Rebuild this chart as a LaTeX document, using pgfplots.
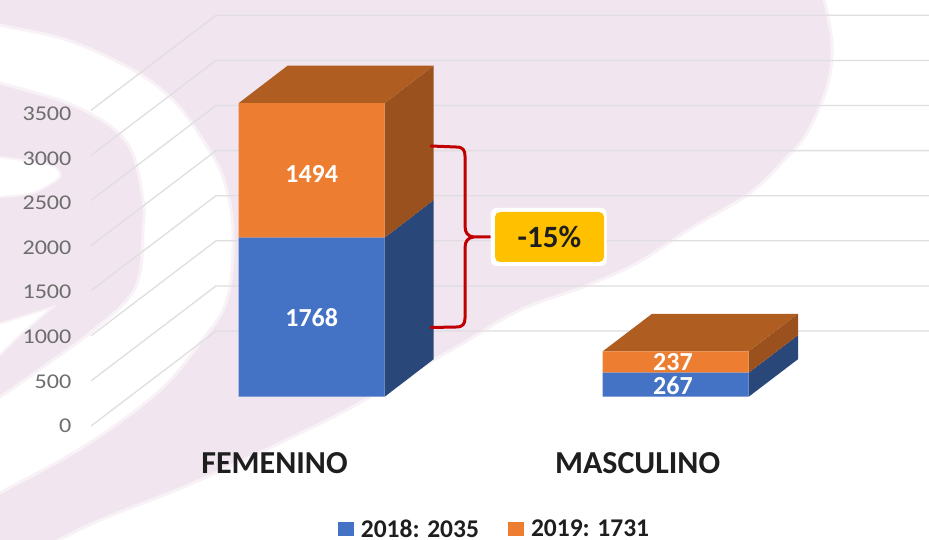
\documentclass[border=0pt]{standalone}
\usepackage{fontspec}
\setmainfont{Carlito}
\newfontfamily\tickfont[FakeStretch=1.15]{Carlito}
\usepackage{pgfplots}
\usepackage{pgfplotstable}
\pgfplotsset{compat=1.18}
\definecolor{bgpink}{HTML}{F1E6EF}
\definecolor{edgepink}{HTML}{F8F2F7}
\definecolor{barblue}{HTML}{4472C4}
\definecolor{barorange}{HTML}{ED7D31}
\definecolor{sideblue}{HTML}{2A4779}
\definecolor{sideorange}{HTML}{9A511D}
\definecolor{toporange}{HTML}{B05D21}
\definecolor{gridc}{HTML}{E0DEE0}
\definecolor{tickc}{HTML}{6E6E6E}
\definecolor{bracered}{HTML}{C00000}
\definecolor{callout}{HTML}{FFC000}
\definecolor{inkc}{HTML}{1E1E1E}
\newcommand\fsz[1]{\fontsize{#1}{#1}\selectfont}

% stacked values, x in picture pixels
\pgfplotstableread{
x    y2018 y2019
311.7 1768 1494
675.7 267  237
}\sexdata

\pgfplotsset{
  canvas/.style={
    at={(0,0)}, anchor=south west, scale only axis,
    width=929pt, height=539pt,
    xmin=0, xmax=929, clip=false,
    axis line style={draw=none}, tick style={draw=none},
  },
  barscale/.style={ymin=-1581.1, ymax=4407.8},
}

\begin{document}
\begin{tikzpicture}
\useasboundingbox (0,0) rectangle (929pt,539pt);

% watermark behind the chart
\begin{scope}[shift={(0,539pt)},x=1pt,y=-1pt]
\clip (0,0) rectangle (929,539);
\fill[white] (0,0) rectangle (929,539);
\path[fill=bgpink, draw=edgepink, line width=3pt] plot[smooth,tension=0.6] coordinates {(823,-5) (832,43) (827,87) (807,133) (787,157) (750,193) (693,227) (637,263) (583,287) (520,310) (460,345) (400,379) (333,417) (200,480) (100,520) (50,545)} -- (-5,545) -- (-5,-5) -- cycle;
\path[fill=white, draw=edgepink, line width=3pt] plot[smooth,tension=0.6] coordinates {(-10,401) (0,397) (43,367) (90,333) (127,300) (140,273) (143,230) (143,200) (127,143) (77,107) (0,83) (-10,80)} -- plot[smooth,tension=0.6] coordinates {(-10,20) (0,25) (67,40) (133,70) (173,100) (203,140) (224,180) (233,233) (227,300) (200,343) (157,393) (83,447) (0,493) (-10,500)} -- cycle;
\path[fill=white, draw=edgepink, line width=2pt] plot[smooth,tension=0.5] coordinates {(-5,156) (0,157) (50,165) (60,177) (33,193) (0,197) (-5,197)} -- cycle;
\path[fill=white, draw=edgepink, line width=2pt] (-5,325) -- (53,307) -- (20,335) -- (-5,360) -- cycle;
\end{scope}

% wall lines
\begin{axis}[canvas,
  ymin=-1252.8, ymax=4722.8,
  xtick=\empty, ytick=\empty,
]
\addplot[gridc, line width=1.3pt] coordinates {(91,0) (216,1053) (929,1053)};
\addplot[gridc, line width=1.3pt] coordinates {(91,500) (216,1553) (929,1553)};
\addplot[gridc, line width=1.3pt] coordinates {(91,1000) (216,2053) (929,2053)};
\addplot[gridc, line width=1.3pt] coordinates {(91,1500) (216,2553) (929,2553)};
\addplot[gridc, line width=1.3pt] coordinates {(91,2000) (216,3053) (929,3053)};
\addplot[gridc, line width=1.3pt] coordinates {(91,2500) (216,3553) (929,3553)};
\addplot[gridc, line width=1.3pt] coordinates {(91,3000) (216,4053) (929,4053)};
\addplot[gridc, line width=1.3pt] coordinates {(91,3500) (216,4553) (929,4553)};
\end{axis}

% value axis labels
\begin{axis}[canvas,
  ymin=-1266.8, ymax=4775.8,
  xtick=\empty,
  ytick={0,500,1000,1500,2000,2500,3000,3500},
  yticklabel style={anchor=east, xshift=75pt, text=tickc,
    font=\tickfont\fsz{21}, /pgf/number format/assume math mode=true,
    /pgf/number format/1000 sep={}},
]
\end{axis}

% depth faces of the 3d columns (depth = 417 units)
\begin{axis}[canvas, barscale, xtick=\empty, ytick=\empty]
\addplot[fill=sideblue, draw=none] coordinates {(384.7,0) (433.7,417) (433.7,2185) (384.7,1768)} -- cycle;
\addplot[fill=sideorange, draw=none] coordinates {(384.7,1768) (433.7,2185) (433.7,3679) (384.7,3262)} -- cycle;
\addplot[fill=toporange, draw=none] coordinates {(238.7,3262) (287.7,3679) (433.7,3679) (384.7,3262)} -- cycle;
\addplot[fill=sideblue, draw=none] coordinates {(748.7,0) (798,417) (798,684) (748.7,267)} -- cycle;
\addplot[fill=sideorange, draw=none] coordinates {(748.7,267) (798,684) (798,921) (748.7,504)} -- cycle;
\addplot[fill=toporange, draw=none] coordinates {(602.7,504) (652,921) (798,921) (748.7,504)} -- cycle;
\end{axis}

% front faces
\begin{axis}[canvas, barscale,
  ybar stacked, bar width=146,
  ytick=\empty,
  xtick={274.5,637.6},
  xticklabels={FEMENINO,MASCULINO},
  xticklabel style={anchor=center, yshift=76pt, text=inkc, font=\bfseries\fsz{32}},
  legend columns=2,
  legend style={at={(axis cs:494,-1470)}, anchor=center, draw=none, fill=none,
    font=\bfseries\fsz{25.5}, text=inkc, inner sep=0pt,
    nodes={inner sep=1pt},
    /tikz/every odd column/.style={column sep=6pt},
    /tikz/every even column/.style={column sep=28pt}},
  legend image code/.code={\fill[#1,draw=none] (-8pt,-7pt) rectangle (8pt,7pt);},
]
\addplot[fill=barblue, draw=none] table[x=x,y=y2018] {\sexdata};
\addplot[fill=barorange, draw=none] table[x=x,y=y2019] {\sexdata};
\legend{2018: 2035,2019: 1731}
\end{axis}

% value labels, brace and callout
\begin{scope}[shift={(0,539pt)},x=1pt,y=-1pt]
\node[text=white, font=\bfseries\fsz{26}] at (311.7,318) {1768};
\node[text=white, font=\bfseries\fsz{26}] at (311.7,174) {1494};
\node[text=white, font=\bfseries\fsz{26}] at (673,386) {267};
\node[text=white, font=\bfseries\fsz{26}] at (673,362) {237};
\draw[bracered, line width=3pt, line cap=round, line join=round]
  (431,146) -- (456,147) .. controls (463,147) and (465,150) .. (465,156)
  -- (465,226) .. controls (465,233) and (468,236.5) .. (474,237) -- (490,237)
  -- (474,237) .. controls (468,237.5) and (465,241) .. (465,248)
  -- (465,318) .. controls (465,324) and (463,327) .. (456,327) -- (431,327.5);
\node[fill=white, rounded corners=6pt, minimum width=116pt, minimum height=58pt, inner sep=0pt] at (548.7,237) {};
\node[fill=callout, rounded corners=5pt, minimum width=109pt, minimum height=50pt, inner sep=0pt,
  text=inkc, font=\bfseries\fsz{31}] at (549.5,237) {-15\%};
\end{scope}
\end{tikzpicture}
\end{document}
